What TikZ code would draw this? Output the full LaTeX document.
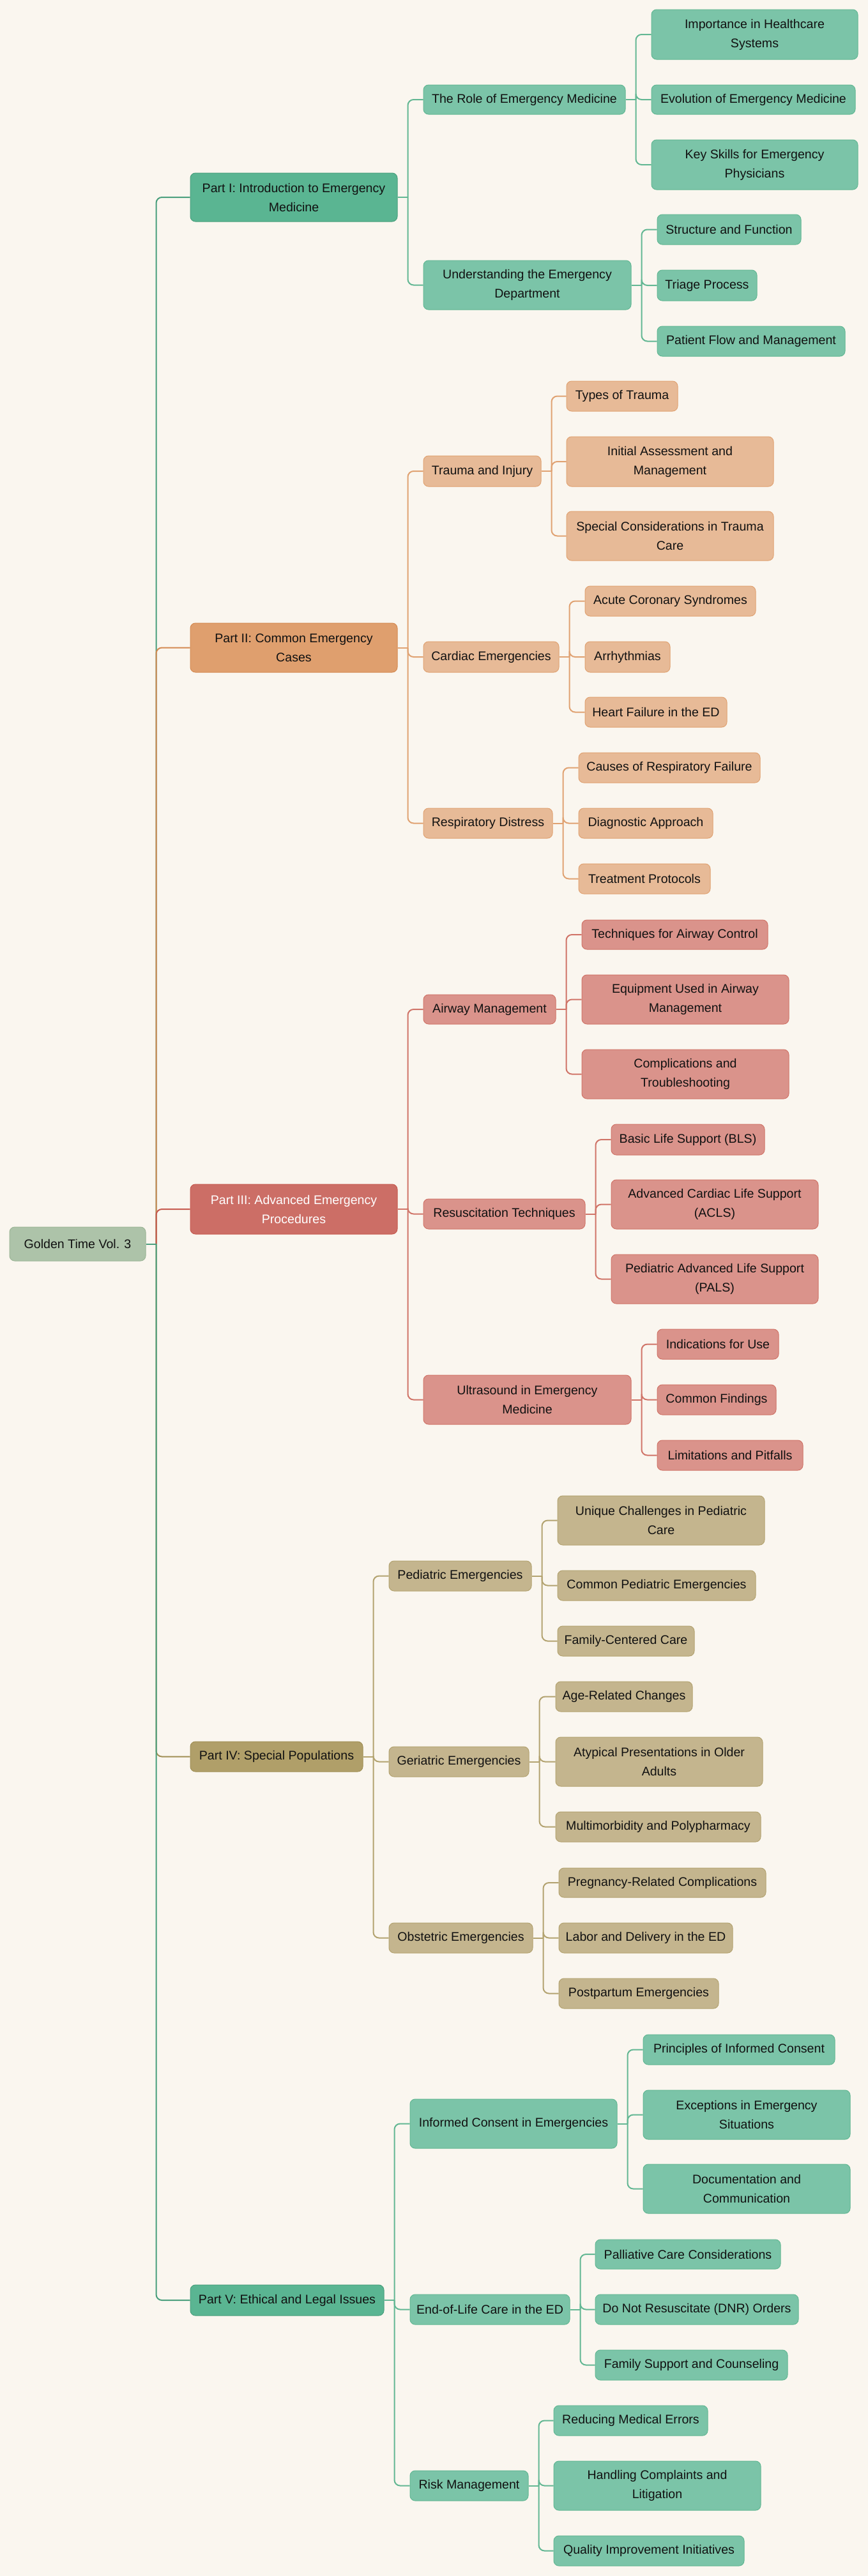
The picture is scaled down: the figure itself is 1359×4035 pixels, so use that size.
\documentclass[tikz,border=0pt]{standalone}
\usepackage{fontspec}
\setmainfont{Liberation Sans}
\definecolor{bg}{HTML}{FAF6EF}
\definecolor{rootf}{HTML}{ADC3A9}\definecolor{rootd}{HTML}{9BB596}
\definecolor{gAf}{HTML}{5AB592}\definecolor{gAd}{HTML}{4A9F7D}
\definecolor{gBf}{HTML}{7BC4A8}\definecolor{gBd}{HTML}{62B793}
\definecolor{oAf}{HTML}{DF9F6E}\definecolor{oAd}{HTML}{D48A52}
\definecolor{oBf}{HTML}{E7BA97}\definecolor{oBd}{HTML}{E0A272}
\definecolor{rAf}{HTML}{CC6E66}\definecolor{rAd}{HTML}{C65A4F}
\definecolor{rBf}{HTML}{DA938B}\definecolor{rBd}{HTML}{D07468}
\definecolor{tAf}{HTML}{B09F69}\definecolor{tAd}{HTML}{A08F55}
\definecolor{tBf}{HTML}{C4B58E}\definecolor{tBd}{HTML}{B3A370}
\definecolor{ink}{HTML}{111111}
\tikzset{
  mm/.style={rounded corners=8pt, inner sep=0pt, line width=1pt, align=center,
    text=ink, font=\fontsize{19.6pt}{30pt}\selectfont},
  rootbox/.style={mm, fill=rootf, draw=rootd},
  gA/.style={mm, fill=gAf, draw=gAd},
  gB/.style={mm, fill=gBf, draw=gBd},
  oA/.style={mm, fill=oAf, draw=oAd},
  oB/.style={mm, fill=oBf, draw=oBd},
  rA/.style={mm, fill=rAf, draw=rAd, text=white},
  rB/.style={mm, fill=rBf, draw=rBd},
  tA/.style={mm, fill=tAf, draw=tAd},
  tB/.style={mm, fill=tBf, draw=tBd},
  conn/.style={line width=2pt}
}
\newcommand\mmnode[7]{%
  \pgfmathsetmacro\mmcx{(#3+#5)/2}%
  \pgfmathsetmacro\mmcy{(#4+#6)/2}%
  \pgfmathsetmacro\mmw{#5-#3}%
  \pgfmathsetmacro\mmh{#6-#4}%
  \node[#2, minimum width=\mmw pt, minimum height=\mmh pt] (#1) at (\mmcx,\mmcy) {#7};}
\newcommand\mmlink[3]{%
  \draw[conn,#3] (#1.east) -- ++(16,0) coordinate (mmj);
  \draw[conn,#3,rounded corners=9pt] (mmj) |- (#2.west);}
\begin{document}
\begin{tikzpicture}[x=1pt,y=-1pt]
\useasboundingbox (0,0) rectangle (1359,4035);
\fill[bg] (0,0) rectangle (1359,4035);

% root
\mmnode{root}{rootbox}{15}{1922}{228}{1975}{Golden Time Vol. 3}

% Part I
\mmnode{p1}{gA}{298}{271}{622}{347}{Part I: Introduction to Emergency\\Medicine}
\mmnode{p1a}{gB}{663}{133}{979}{179}{The Role of Emergency Medicine}
\mmnode{p1a1}{gB}{1020}{15}{1343}{93}{Importance in Healthcare\\Systems}
\mmnode{p1a2}{gB}{1020}{133}{1339}{179}{Evolution of Emergency Medicine}
\mmnode{p1a3}{gB}{1020}{219}{1343}{297}{Key Skills for Emergency\\Physicians}
\mmnode{p1b}{gB}{663}{408}{988}{485}{Understanding the Emergency\\Department}
\mmnode{p1b1}{gB}{1029}{336}{1254}{383}{Structure and Function}
\mmnode{p1b2}{gB}{1029}{423}{1185}{471}{Triage Process}
\mmnode{p1b3}{gB}{1029}{511}{1323}{558}{Patient Flow and Management}

% Part II
\mmnode{p2}{oA}{298}{976}{622}{1053}{Part II: Common Emergency\\Cases}
\mmnode{p2a}{oB}{663}{714}{847}{762}{Trauma and Injury}
\mmnode{p2a1}{oB}{887}{597}{1061}{644}{Types of Trauma}
\mmnode{p2a2}{oB}{887}{684}{1211}{762}{Initial Assessment and\\Management}
\mmnode{p2a3}{oB}{887}{801}{1211}{878}{Special Considerations in Trauma\\Care}
\mmnode{p2b}{oB}{663}{1005}{875}{1053}{Cardiac Emergencies}
\mmnode{p2b1}{oB}{916}{918}{1183}{965}{Acute Coronary Syndromes}
\mmnode{p2b2}{oB}{916}{1005}{1049}{1053}{Arrhythmias}
\mmnode{p2b3}{oB}{916}{1092}{1138}{1139}{Heart Failure in the ED}
\mmnode{p2c}{oB}{663}{1266}{865}{1313}{Respiratory Distress}
\mmnode{p2c1}{oB}{906}{1179}{1190}{1226}{Causes of Respiratory Failure}
\mmnode{p2c2}{oB}{906}{1266}{1116}{1313}{Diagnostic Approach}
\mmnode{p2c3}{oB}{906}{1353}{1112}{1400}{Treatment Protocols}

% Part III
\mmnode{p3}{rA}{298}{1855}{622}{1933}{Part III: Advanced Emergency\\Procedures}
\mmnode{p3a}{rB}{663}{1558}{870}{1604}{Airway Management}
\mmnode{p3a1}{rB}{911}{1441}{1202}{1487}{Techniques for Airway Control}
\mmnode{p3a2}{rB}{911}{1527}{1235}{1604}{Equipment Used in Airway\\Management}
\mmnode{p3a3}{rB}{911}{1644}{1235}{1721}{Complications and\\Troubleshooting}
\mmnode{p3b}{rB}{663}{1878}{916}{1925}{Resuscitation Techniques}
\mmnode{p3b1}{rB}{957}{1761}{1197}{1809}{Basic Life Support (BLS)}
\mmnode{p3b2}{rB}{957}{1848}{1281}{1925}{Advanced Cardiac Life Support\\(ACLS)}
\mmnode{p3b3}{rB}{957}{1965}{1281}{2042}{Pediatric Advanced Life Support\\(PALS)}
\mmnode{p3c}{rB}{663}{2154}{988}{2231}{Ultrasound in Emergency\\Medicine}
\mmnode{p3c1}{rB}{1029}{2082}{1219}{2129}{Indications for Use}
\mmnode{p3c2}{rB}{1029}{2169}{1215}{2216}{Common Findings}
\mmnode{p3c3}{rB}{1029}{2256}{1257}{2303}{Limitations and Pitfalls}

% Part IV
\mmnode{p4}{tA}{298}{2728}{568}{2775}{Part IV: Special Populations}
\mmnode{p4a}{tB}{609}{2445}{832}{2492}{Pediatric Emergencies}
\mmnode{p4a1}{tB}{873}{2343}{1197}{2420}{Unique Challenges in Pediatric\\Care}
\mmnode{p4a2}{tB}{873}{2460}{1183}{2507}{Common Pediatric Emergencies}
\mmnode{p4a3}{tB}{873}{2547}{1087}{2594}{Family-Centered Care}
\mmnode{p4b}{tB}{609}{2736}{828}{2783}{Geriatric Emergencies}
\mmnode{p4b1}{tB}{870}{2634}{1084}{2681}{Age-Related Changes}
\mmnode{p4b2}{tB}{870}{2721}{1194}{2798}{Atypical Presentations in Older\\Adults}
\mmnode{p4b3}{tB}{870}{2838}{1191}{2885}{Multimorbidity and Polypharmacy}
\mmnode{p4c}{tB}{609}{3012}{834}{3059}{Obstetric Emergencies}
\mmnode{p4c1}{tB}{875}{2926}{1199}{2972}{Pregnancy-Related Complications}
\mmnode{p4c2}{tB}{875}{3012}{1147}{3059}{Labor and Delivery in the ED}
\mmnode{p4c3}{tB}{875}{3099}{1125}{3146}{Postpartum Emergencies}

% Part V
\mmnode{p5}{gA}{298}{3579}{601}{3627}{Part V: Ethical and Legal Issues}
\mmnode{p5a}{gB}{642}{3288}{966}{3365}{Informed Consent in Emergencies}
\mmnode{p5a1}{gB}{1007}{3187}{1307}{3234}{Principles of Informed Consent}
\mmnode{p5a2}{gB}{1007}{3274}{1331}{3351}{Exceptions in Emergency\\Situations}
\mmnode{p5a3}{gB}{1007}{3390}{1331}{3467}{Documentation and\\Communication}
\mmnode{p5b}{gB}{642}{3594}{892}{3641}{End-of-Life Care in the ED}
\mmnode{p5b1}{gB}{932}{3508}{1222}{3554}{Palliative Care Considerations}
\mmnode{p5b2}{gB}{932}{3594}{1250}{3641}{Do Not Resuscitate (DNR) Orders}
\mmnode{p5b3}{gB}{932}{3681}{1233}{3728}{Family Support and Counseling}
\mmnode{p5c}{gB}{642}{3870}{827}{3917}{Risk Management}
\mmnode{p5c1}{gB}{867}{3768}{1108}{3815}{Reducing Medical Errors}
\mmnode{p5c2}{gB}{867}{3855}{1191}{3932}{Handling Complaints and\\Litigation}
\mmnode{p5c3}{gB}{867}{3972}{1165}{4019}{Quality Improvement Initiatives}

% connectors: root level
\mmlink{root}{p1}{gAd}
\mmlink{root}{p2}{oAd}
\mmlink{root}{p3}{rAd}
\mmlink{root}{p4}{tAd}
\mmlink{root}{p5}{gAd}

% level 2
\mmlink{p1}{p1a}{gBd}\mmlink{p1}{p1b}{gBd}
\mmlink{p2}{p2a}{oBd}\mmlink{p2}{p2b}{oBd}\mmlink{p2}{p2c}{oBd}
\mmlink{p3}{p3a}{rBd}\mmlink{p3}{p3b}{rBd}\mmlink{p3}{p3c}{rBd}
\mmlink{p4}{p4a}{tBd}\mmlink{p4}{p4b}{tBd}\mmlink{p4}{p4c}{tBd}
\mmlink{p5}{p5a}{gBd}\mmlink{p5}{p5b}{gBd}\mmlink{p5}{p5c}{gBd}

% level 3
\mmlink{p1a}{p1a1}{gBd}\mmlink{p1a}{p1a2}{gBd}\mmlink{p1a}{p1a3}{gBd}
\mmlink{p1b}{p1b1}{gBd}\mmlink{p1b}{p1b2}{gBd}\mmlink{p1b}{p1b3}{gBd}
\mmlink{p2a}{p2a1}{oBd}\mmlink{p2a}{p2a2}{oBd}\mmlink{p2a}{p2a3}{oBd}
\mmlink{p2b}{p2b1}{oBd}\mmlink{p2b}{p2b2}{oBd}\mmlink{p2b}{p2b3}{oBd}
\mmlink{p2c}{p2c1}{oBd}\mmlink{p2c}{p2c2}{oBd}\mmlink{p2c}{p2c3}{oBd}
\mmlink{p3a}{p3a1}{rBd}\mmlink{p3a}{p3a2}{rBd}\mmlink{p3a}{p3a3}{rBd}
\mmlink{p3b}{p3b1}{rBd}\mmlink{p3b}{p3b2}{rBd}\mmlink{p3b}{p3b3}{rBd}
\mmlink{p3c}{p3c1}{rBd}\mmlink{p3c}{p3c2}{rBd}\mmlink{p3c}{p3c3}{rBd}
\mmlink{p4a}{p4a1}{tBd}\mmlink{p4a}{p4a2}{tBd}\mmlink{p4a}{p4a3}{tBd}
\mmlink{p4b}{p4b1}{tBd}\mmlink{p4b}{p4b2}{tBd}\mmlink{p4b}{p4b3}{tBd}
\mmlink{p4c}{p4c1}{tBd}\mmlink{p4c}{p4c2}{tBd}\mmlink{p4c}{p4c3}{tBd}
\mmlink{p5a}{p5a1}{gBd}\mmlink{p5a}{p5a2}{gBd}\mmlink{p5a}{p5a3}{gBd}
\mmlink{p5b}{p5b1}{gBd}\mmlink{p5b}{p5b2}{gBd}\mmlink{p5b}{p5b3}{gBd}
\mmlink{p5c}{p5c1}{gBd}\mmlink{p5c}{p5c2}{gBd}\mmlink{p5c}{p5c3}{gBd}
\end{tikzpicture}
\end{document}
